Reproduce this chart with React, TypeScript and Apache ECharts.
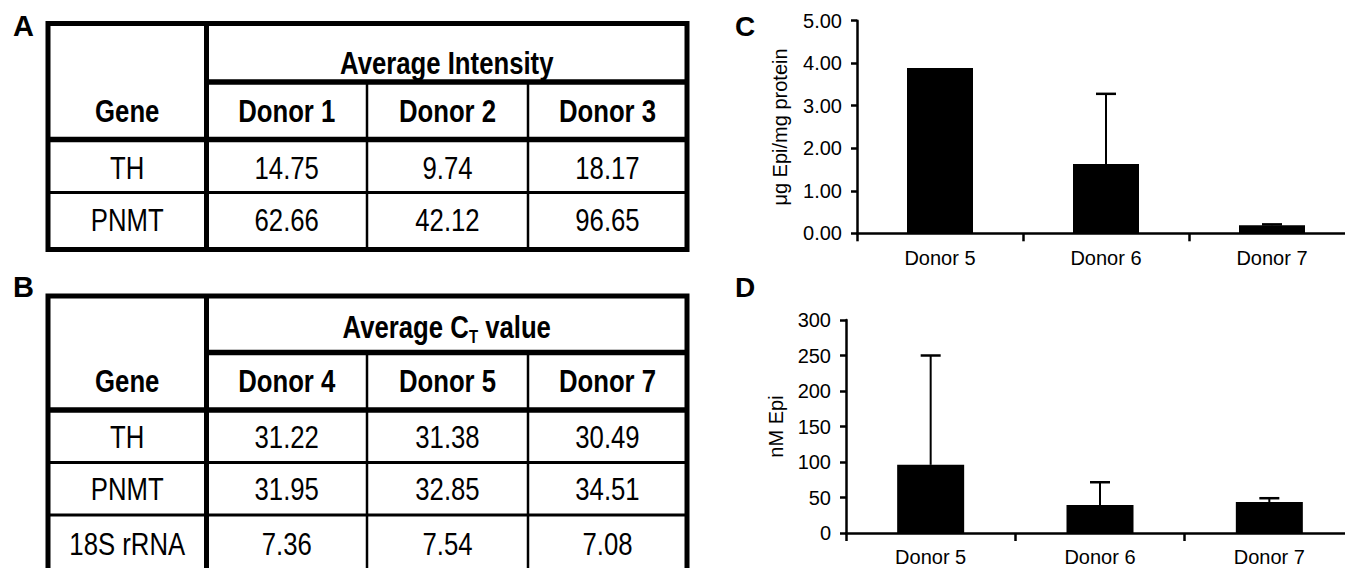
import React, { useEffect, useRef } from "react";
import * as echarts from "echarts";

// ---------- data ----------
const tableADonors = ["Donor 1", "Donor 2", "Donor 3"];
const tableAGenes = ["TH", "PNMT"];
const tableATH = [14.75, 9.74, 18.17];
const tableAPNMT = [62.66, 42.12, 96.65];

const tableBDonors = ["Donor 4", "Donor 5", "Donor 7"];
const tableBGenes = ["TH", "PNMT", "18S rRNA"];
const tableBTH = [31.22, 31.38, 30.49];
const tableBPNMT = [31.95, 32.85, 34.51];
const tableB18S = [7.36, 7.54, 7.08];

const chartCCategories = ["Donor 5", "Donor 6", "Donor 7"];
const chartCValues = [3.89, 1.63, 0.19];
const chartCErrorTop: (number | null)[] = [null, 3.28, 0.21];
const chartCAxis = { min: 0, max: 5, interval: 1 };

const chartDCategories = ["Donor 5", "Donor 6", "Donor 7"];
const chartDValues = [96, 39.5, 43.5];
const chartDErrorTop: (number | null)[] = [250, 71.5, 49];
const chartDAxis = { min: 0, max: 300, interval: 50 };

// ---------- styling ----------
const FONT = "'Liberation Sans', Arial, Helvetica, sans-serif";
const SX = 0.83; // condensed look of table text

function measure(text: string, size: number, bold: boolean) {
  const ctx = document.createElement("canvas").getContext("2d")!;
  ctx.font = `${bold ? "bold " : ""}${size}px 'Liberation Sans'`;
  return ctx.measureText(text).width;
}

function ctext(x: number, y: number, text: string, bold: boolean, size = 31) {
  return {
    type: "text",
    x,
    y,
    scaleX: SX,
    silent: true,
    style: {
      text,
      x: 0,
      y: 0,
      align: "center",
      verticalAlign: "middle",
      textAlign: "center",
      textVerticalAlign: "middle",
      fontSize: size,
      fontWeight: bold ? "bold" : "normal",
      fontFamily: FONT,
      fill: "#000",
    },
  };
}

function ltext(x: number, y: number, text: string, size: number) {
  return {
    type: "text",
    x,
    y,
    silent: true,
    style: {
      text,
      x: 0,
      y: 0,
      align: "left",
      verticalAlign: "middle",
      textAlign: "left",
      textVerticalAlign: "middle",
      fontSize: size,
      fontWeight: "bold",
      fontFamily: FONT,
      fill: "#000",
    },
  };
}

function line(x1: number, y1: number, x2: number, y2: number, w: number) {
  return {
    type: "line",
    silent: true,
    shape: { x1, y1, x2, y2 },
    style: { stroke: "#000", lineWidth: w },
  };
}

// table geometry (line centres)
const COL_X = [48, 206.5, 367, 528, 687];
const colCenter = (i: number) => (COL_X[i] + COL_X[i + 1]) / 2;

function buildTable(
  top: number,
  titleLine: number,
  headerLine: number,
  rowLines: number[],
  bottom: number,
  titleY: number,
  headerY: number,
  rowYs: number[],
  title: any[],
  donors: string[],
  genes: string[],
  rows: number[][]
) {
  const els: any[] = [];
  const L = COL_X[0];
  const R = COL_X[4];
  els.push({
    type: "rect",
    silent: true,
    shape: { x: L, y: top, width: R - L, height: bottom - top },
    style: { fill: "none", stroke: "#000", lineWidth: 5 },
  });
  els.push(line(COL_X[1], top, COL_X[1], bottom, 5));
  els.push(line(COL_X[1], titleLine, R, titleLine, 5.5));
  els.push(line(L, headerLine, R, headerLine, 5.5));
  rowLines.forEach((y) => els.push(line(L, y, R, y, 3)));
  els.push(line(COL_X[2], titleLine, COL_X[2], bottom, 2.5));
  els.push(line(COL_X[3], titleLine, COL_X[3], bottom, 2.5));
  els.push(...title);
  els.push(ctext(colCenter(0), headerY, "Gene", true));
  donors.forEach((d, i) => els.push(ctext(colCenter(i + 1), headerY, d, true)));
  genes.forEach((g, r) => {
    els.push(ctext(colCenter(0), rowYs[r], g, false));
    rows[r].forEach((v, c) => els.push(ctext(colCenter(c + 1), rowYs[r], v.toFixed(2), false)));
  });
  return els;
}

function subscriptTitle(cx: number, cy: number) {
  const a = "Average C";
  const s = "T";
  const b = " value";
  const w1 = measure(a, 31, true);
  const w2 = measure(s, 18, true);
  const w3 = measure(b, 31, true);
  const total = w1 + w2 + w3;
  const x0 = -total / 2;
  const mk = (x: number, y: number, t: string, size: number) => ({
    type: "text",
    x,
    y,
    silent: true,
    style: {
      text: t,
      x: 0,
      y: 0,
      align: "left",
      verticalAlign: "middle",
      textAlign: "left",
      textVerticalAlign: "middle",
      fontSize: size,
      fontWeight: "bold",
      fontFamily: FONT,
      fill: "#000",
    },
  });
  return {
    type: "group",
    x: cx,
    y: cy,
    scaleX: SX,
    children: [mk(x0, 0, a, 31), mk(x0 + w1, 10, s, 18), mk(x0 + w1 + w2, 0, b, 31)],
  };
}

function errorSeries(idx: number, values: number[], tops: (number | null)[]) {
  const data = values
    .map((v, i) => [i, v, tops[i]])
    .filter((d) => d[2] != null);
  return {
    type: "custom",
    xAxisIndex: idx,
    yAxisIndex: idx,
    z: 1,
    silent: true,
    data,
    renderItem: (_p: any, api: any) => {
      const x = api.value(0);
      const lo = api.coord([x, api.value(1)]);
      const hi = api.coord([x, api.value(2)]);
      return {
        type: "group",
        children: [
          { type: "line", shape: { x1: lo[0], y1: lo[1], x2: hi[0], y2: hi[1] }, style: { stroke: "#000", lineWidth: 2 } },
          { type: "line", shape: { x1: hi[0] - 10, y1: hi[1], x2: hi[0] + 10, y2: hi[1] }, style: { stroke: "#000", lineWidth: 2.5 } },
        ],
      };
    },
  };
}

const axisLine = { show: true, lineStyle: { color: "#000", width: 2.5 } };
const labelStyle = { color: "#000", fontSize: 20, fontFamily: FONT };

export default function App() {
  const ref = useRef<HTMLDivElement>(null);

  useEffect(() => {
    if (!ref.current) return;
    const chart = echarts.init(ref.current, null, { renderer: "svg" });

    const tableA = buildTable(
      23.5, 82, 139.5, [192.5], 249.5,
      63.5, 111.5, [168.5, 220.5],
      [ctext((COL_X[1] + COL_X[4]) / 2, 63.5, "Average Intensity", true)],
      tableADonors, tableAGenes, [tableATH, tableAPNMT]
    );
    const tableB = buildTable(
      296, 352.5, 410, [462.5, 515], 572,
      326.7, 381.5, [437.5, 489.5, 544.5],
      [subscriptTitle((COL_X[1] + COL_X[4]) / 2, 326.7)],
      tableBDonors, tableBGenes, [tableBTH, tableBPNMT, tableB18S]
    );

    const option: any = {
      animation: false,
      backgroundColor: "#fff",
      graphic: {
        elements: [
          ...tableA,
          ...tableB,
          ltext(13, 26, "A", 29),
          ltext(13, 287, "B", 29),
          ltext(735, 26.5, "C", 28),
          ltext(735, 287.5, "D", 28),
        ],
      },
      grid: [
        { left: 857, top: 20.7, width: 498, height: 212.6, containLabel: false, outerBoundsMode: "none" },
        { left: 846, top: 320, width: 508, height: 213, containLabel: false, outerBoundsMode: "none" },
      ],
      xAxis: [
        {
          type: "category",
          gridIndex: 0,
          data: chartCCategories,
          axisLine,
          axisTick: { show: true, length: 8, lineStyle: { color: "#000", width: 2.5 } },
          axisLabel: { ...labelStyle, margin: 15, interval: 0 },
          splitLine: { show: false },
        },
        {
          type: "category",
          gridIndex: 1,
          data: chartDCategories,
          axisLine,
          axisTick: { show: true, length: 8, lineStyle: { color: "#000", width: 2.5 } },
          axisLabel: { ...labelStyle, margin: 14, interval: 0 },
          splitLine: { show: false },
        },
      ],
      yAxis: [
        {
          type: "value",
          gridIndex: 0,
          min: chartCAxis.min,
          max: chartCAxis.max,
          interval: chartCAxis.interval,
          axisLine,
          axisTick: { show: true, length: 6, lineStyle: { color: "#000", width: 2.5 } },
          axisLabel: { ...labelStyle, margin: 15, formatter: (v: number) => v.toFixed(2) },
          splitLine: { show: false },
          name: "μg Epi/mg protein",
          nameLocation: "middle",
          nameGap: 67,
          nameTextStyle: { ...labelStyle },
        },
        {
          type: "value",
          gridIndex: 1,
          min: chartDAxis.min,
          max: chartDAxis.max,
          interval: chartDAxis.interval,
          axisLine,
          axisTick: { show: true, length: 6, lineStyle: { color: "#000", width: 2.5 } },
          axisLabel: { ...labelStyle, margin: 15 },
          splitLine: { show: false },
          name: "nM Epi",
          nameLocation: "middle",
          nameGap: 60,
          nameTextStyle: { ...labelStyle },
        },
      ],
      series: [
        errorSeries(0, chartCValues, chartCErrorTop),
        {
          type: "bar",
          xAxisIndex: 0,
          yAxisIndex: 0,
          data: chartCValues,
          barWidth: 66,
          z: 2,
          itemStyle: { color: "#000" },
          silent: true,
        },
        errorSeries(1, chartDValues, chartDErrorTop),
        {
          type: "bar",
          xAxisIndex: 1,
          yAxisIndex: 1,
          data: chartDValues,
          barWidth: 67,
          z: 2,
          itemStyle: { color: "#000" },
          silent: true,
        },
      ],
    };

    chart.setOption(option);
    return () => chart.dispose();
  }, []);

  return (
    <div
      style={{
        position: "fixed",
        left: 0,
        top: 0,
        width: 1345,
        height: 568,
        overflow: "hidden",
        background: "#fff",
      }}
    >
      <div ref={ref} style={{ width: 1360, height: 568 }} />
    </div>
  );
}
